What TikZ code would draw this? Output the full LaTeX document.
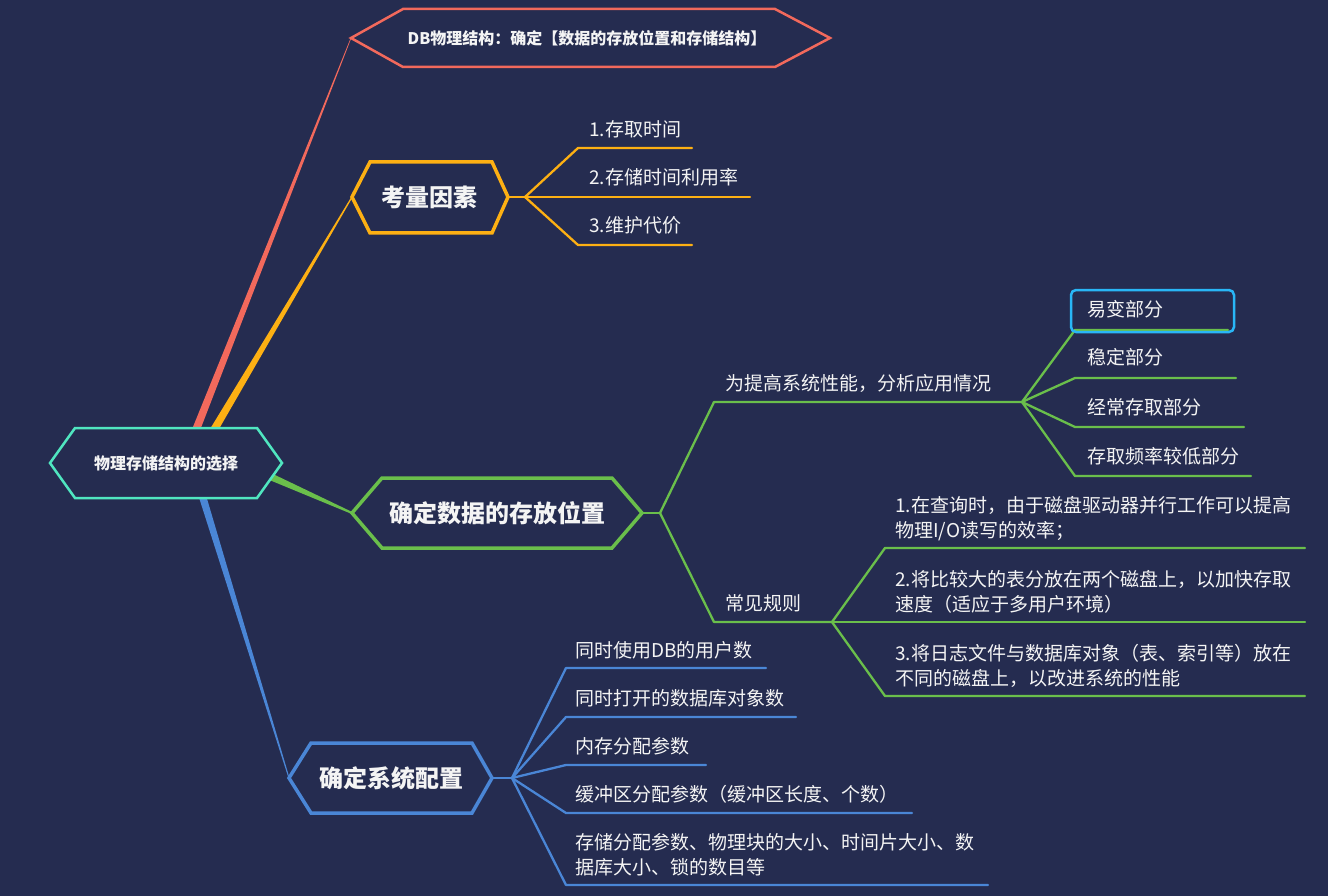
\documentclass[tikz,border=0pt]{standalone}
\usepackage{fontspec}
\setmainfont{Noto Sans CJK SC}
\usetikzlibrary{calc}
\definecolor{bg}{HTML}{252C50}
\definecolor{txt}{HTML}{F4F4F4}
\definecolor{cteal}{HTML}{50E6C0}
\definecolor{cred}{HTML}{F2695C}
\definecolor{corange}{HTML}{FDB013}
\definecolor{cgreen}{HTML}{6ABF4B}
\definecolor{cblue}{HTML}{4A86D6}
\definecolor{csel}{HTML}{29B6F6}
\newcommand\taper[5]{\fill[#5] ($(#1)!#3!90:(#2)$) -- ($(#2)!#4!-90:(#1)$) -- ($(#2)!#4!90:(#1)$) -- ($(#1)!#3!-90:(#2)$) -- cycle;}
\newcommand\twoline[2]{\begin{tabular}[b]{@{}l@{}}#1\\#2\end{tabular}}
\tikzset{
  lbl/.style={anchor=base west, inner sep=0pt, text=txt, font=\fontsize{19}{25}\selectfont},
  ttl/.style={inner sep=0pt, text=txt, font=\fontsize{24}{28}\selectfont\bfseries},
  sttl/.style={inner sep=0pt, text=txt, font=\fontsize{16}{20}\selectfont\bfseries},
  hexa/.style={fill=bg, line join=miter},
  br/.style={line width=2.3pt, line join=round, line cap=round},
}
\begin{document}
\begin{tikzpicture}[x=1pt,y=-1pt]
\fill[bg] (0,0) rectangle (1328,896);
\useasboundingbox (0,0) rectangle (1328,896);

% ---------- hexagon corner coordinates ----------
\coordinate (rL) at (50,463); \coordinate (rR) at (282,463);
\coordinate (tL) at (351,38);  \coordinate (tR) at (830,38);
\coordinate (oL) at (352,197); \coordinate (oR) at (508,197);
\coordinate (gL) at (352,513); \coordinate (gR) at (642,513);
\coordinate (bL) at (289,778); \coordinate (bR) at (492,778);

% ---------- tapered main connectors ----------
\coordinate (sRed) at (192,440);
\coordinate (sOra) at (208,440);
\coordinate (sGre) at (260,472);
\coordinate (sBlu) at (199,485);
\taper{sRed}{tL}{4pt}{0.3pt}{cred}
\taper{sOra}{oL}{4pt}{0.6pt}{corange}
\taper{sGre}{gL}{3.8pt}{1pt}{cgreen}
\taper{sBlu}{bL}{3.8pt}{0.5pt}{cblue}

% ---------- hexagons ----------
\draw[hexa, draw=cteal, line width=2.5pt] (rL) -- (75,428) -- (257,428) -- (rR) -- (257,498) -- (75,498) -- cycle;
\node[sttl] (root) at (166,463) {物理存储结构的选择};

\draw[hexa, draw=cred, line width=2.5pt] (tL) -- (403,9) -- (775,9) -- (tR) -- (775,67) -- (403,67) -- cycle;
\node[sttl] (top) at (587,38) {DB物理结构：确定【数据的存放位置和存储结构】};

\draw[hexa, draw=corange, line width=3.5pt] (oL) -- (370,162) -- (492,162) -- (oR) -- (492,233) -- (370,233) -- cycle;
\node[ttl] (kl) at (429,197) {考量因素};

\draw[hexa, draw=cgreen, line width=3.5pt] (gL) -- (382,478) -- (612,478) -- (gR) -- (612,548) -- (382,548) -- cycle;
\node[ttl] (cf) at (497,513) {确定数据的存放位置};

\draw[hexa, draw=cblue, line width=3.5pt] (bL) -- (311,743) -- (472,743) -- (bR) -- (472,813) -- (311,813) -- cycle;
\node[ttl] (xt) at (391,778) {确定系统配置};

% ---------- orange branches ----------
\coordinate (oH) at (525,197);
\draw[br, corange] (oR) -- (oH);
\draw[br, corange] (oH) -- (578,148) -- (692,148);
\draw[br, corange] (oH) -- (578,197) -- (750,197);
\draw[br, corange] (oH) -- (578,245) -- (692,245);
\node[lbl] (o1) at (589,137) {1.存取时间};
\node[lbl] (o2) at (589,185) {2.存储时间利用率};
\node[lbl] (o3) at (589,233) {3.维护代价};

% ---------- green branches ----------
\coordinate (gH) at (660,513);
\coordinate (g1H) at (1022,402);
\coordinate (g2H) at (832,622);
\draw[br, cgreen] (gR) -- (gH);
\draw[br, cgreen] (gH) -- (714,402) -- (g1H);
\draw[br, cgreen] (gH) -- (714,622) -- (g2H);
\node[lbl] (g1) at (725,390) {为提高系统性能，分析应用情况};
\node[lbl] (g2) at (725,610) {常见规则};

\draw[br, cgreen] (g1H) -- (1075,330) -- (1228,330);
\draw[br, cgreen] (g1H) -- (1075,378) -- (1236,378);
\draw[br, cgreen] (g1H) -- (1075,427) -- (1244,427);
\draw[br, cgreen] (g1H) -- (1075,476) -- (1251,476);
\node[lbl] (a1) at (1087,316) {易变部分};
\node[lbl] (a2) at (1087,364) {稳定部分};
\node[lbl] (a3) at (1087,414) {经常存取部分};
\node[lbl] (a4) at (1087,463) {存取频率较低部分};
\draw[csel, line width=2.5pt, rounded corners=5pt] (1071,290) rectangle (1234,332);

\draw[br, cgreen] (g2H) -- (885,548) -- (1305,548);
\draw[br, cgreen] (g2H) -- (885,622) -- (1305,622);
\draw[br, cgreen] (g2H) -- (885,696) -- (1305,696);
\node[lbl] (r1) at (895,537) {\twoline{1.在查询时，由于磁盘驱动器并行工作可以提高}{物理I/O读写的效率；}};
\node[lbl] (r2) at (895,611) {\twoline{2.将比较大的表分放在两个磁盘上，以加快存取}{速度（适应于多用户环境）}};
\node[lbl] (r3) at (895,685) {\twoline{3.将日志文件与数据库对象（表、索引等）放在}{不同的磁盘上，以改进系统的性能}};

% ---------- blue branches ----------
\coordinate (bH) at (512,778);
\draw[br, cblue] (bR) -- (bH);
\draw[br, cblue] (bH) -- (566,668) -- (766,668);
\draw[br, cblue] (bH) -- (566,717) -- (796,717);
\draw[br, cblue] (bH) -- (566,765) -- (706,765);
\draw[br, cblue] (bH) -- (566,813) -- (912,813);
\draw[br, cblue] (bH) -- (566,885) -- (988,885);
\node[lbl] (c1) at (575,657) {同时使用DB的用户数};
\node[lbl] (c2) at (575,705) {同时打开的数据库对象数};
\node[lbl] (c3) at (575,753) {内存分配参数};
\node[lbl] (c4) at (575,801) {缓冲区分配参数（缓冲区长度、个数）};
\node[lbl] (c5) at (575,874) {\twoline{存储分配参数、物理块的大小、时间片大小、数}{据库大小、锁的数目等}};
\end{tikzpicture}
\end{document}
